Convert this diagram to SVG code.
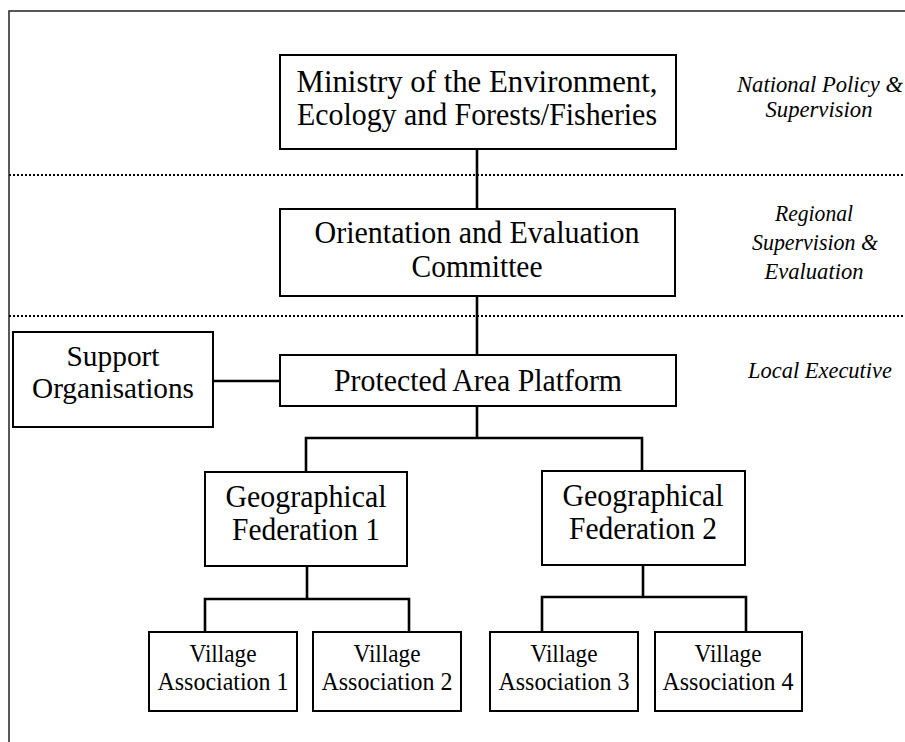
<svg xmlns="http://www.w3.org/2000/svg" width="905" height="742" viewBox="0 0 905 742">
<style>
.box{fill:#fff;stroke:#000;stroke-width:2}
.t{font-family:"Liberation Serif","Times New Roman",serif;fill:#000;text-anchor:middle}
.big{font-size:32px}
.mid{font-size:29px}
.sm{font-size:25px}
.lab{font-family:"Liberation Serif","Times New Roman",serif;font-style:italic;font-size:23px;fill:#000;text-anchor:middle}
.con{fill:none;stroke:#000;stroke-width:2.6}
.dot{stroke:#000;stroke-width:2;stroke-dasharray:2 2}
.frame{fill:none;stroke:#222;stroke-width:1.5}
</style>
<rect width="905" height="742" fill="#fff"/>
<path class="frame" d="M9,742 V11 H905"/>
<g id="separators">
<line class="dot" x1="9" y1="175" x2="905" y2="175"/>
<line class="dot" x1="9" y1="316" x2="905" y2="316"/>
</g>
<g id="connectors">
<path class="con" d="M477,149 V209"/>
<path class="con" d="M477,296 V355"/>
<path class="con" d="M213,381 H280"/>
<path class="con" d="M477,406 V438 M306,472 V438 H642 V471"/>
<path class="con" d="M307,566 V599 M205,632 V599 H409 V632"/>
<path class="con" d="M643,565 V597 M542,632 V597 H746 V632"/>
</g>
<g id="ministry">
<rect class="box" x="280" y="55" width="396" height="94"/>
<text class="t big" x="477" y="92" textLength="361" lengthAdjust="spacingAndGlyphs">Ministry of the Environment,</text>
<text class="t big" x="477" y="125" textLength="360" lengthAdjust="spacingAndGlyphs">Ecology and Forests/Fisheries</text>
</g>
<g id="orientation">
<rect class="box" x="280" y="209" width="395" height="87"/>
<text class="t big" x="477" y="243" textLength="325" lengthAdjust="spacingAndGlyphs">Orientation and Evaluation</text>
<text class="t big" x="477" y="277" textLength="131" lengthAdjust="spacingAndGlyphs">Committee</text>
</g>
<g id="platform">
<rect class="box" x="280" y="355" width="396" height="51"/>
<text class="t big" x="478" y="391" textLength="288" lengthAdjust="spacingAndGlyphs">Protected Area Platform</text>
</g>
<g id="support">
<rect class="box" x="13" y="332" width="200" height="95"/>
<text class="t mid" x="113" y="366" textLength="93" lengthAdjust="spacingAndGlyphs">Support</text>
<text class="t mid" x="113" y="398" textLength="162" lengthAdjust="spacingAndGlyphs">Organisations</text>
</g>
<g id="gf1">
<rect class="box" x="205" y="472" width="202" height="94"/>
<text class="t big" x="306" y="507" textLength="161" lengthAdjust="spacingAndGlyphs">Geographical</text>
<text class="t big" x="306" y="540" textLength="148" lengthAdjust="spacingAndGlyphs">Federation 1</text>
</g>
<g id="gf2">
<rect class="box" x="542" y="471" width="203" height="94"/>
<text class="t big" x="643" y="506" textLength="161" lengthAdjust="spacingAndGlyphs">Geographical</text>
<text class="t big" x="643" y="539" textLength="148" lengthAdjust="spacingAndGlyphs">Federation 2</text>
</g>
<g id="va1">
<rect class="box" x="149" y="632" width="148" height="79"/>
<text class="t sm" x="223" y="662" textLength="67" lengthAdjust="spacingAndGlyphs">Village</text>
<text class="t sm" x="223" y="690" textLength="131" lengthAdjust="spacingAndGlyphs">Association 1</text>
</g>
<g id="va2">
<rect class="box" x="313" y="632" width="148" height="79"/>
<text class="t sm" x="387" y="662" textLength="67" lengthAdjust="spacingAndGlyphs">Village</text>
<text class="t sm" x="387" y="690" textLength="131" lengthAdjust="spacingAndGlyphs">Association 2</text>
</g>
<g id="va3">
<rect class="box" x="490" y="632" width="148" height="79"/>
<text class="t sm" x="564" y="662" textLength="67" lengthAdjust="spacingAndGlyphs">Village</text>
<text class="t sm" x="564" y="690" textLength="131" lengthAdjust="spacingAndGlyphs">Association 3</text>
</g>
<g id="va4">
<rect class="box" x="655" y="632" width="147" height="79"/>
<text class="t sm" x="728" y="662" textLength="67" lengthAdjust="spacingAndGlyphs">Village</text>
<text class="t sm" x="728" y="690" textLength="131" lengthAdjust="spacingAndGlyphs">Association 4</text>
</g>
<g id="levels">
<text class="lab" x="820" y="92" textLength="166" lengthAdjust="spacingAndGlyphs">National Policy &amp;</text>
<text class="lab" x="819" y="117" textLength="107" lengthAdjust="spacingAndGlyphs">Supervision</text>
<text class="lab" x="814" y="221" textLength="78" lengthAdjust="spacingAndGlyphs">Regional</text>
<text class="lab" x="815" y="250" textLength="126" lengthAdjust="spacingAndGlyphs">Supervision &amp;</text>
<text class="lab" x="814" y="279" textLength="99" lengthAdjust="spacingAndGlyphs">Evaluation</text>
<text class="lab" x="820" y="378" textLength="144" lengthAdjust="spacingAndGlyphs">Local Executive</text>
</g>
</svg>
